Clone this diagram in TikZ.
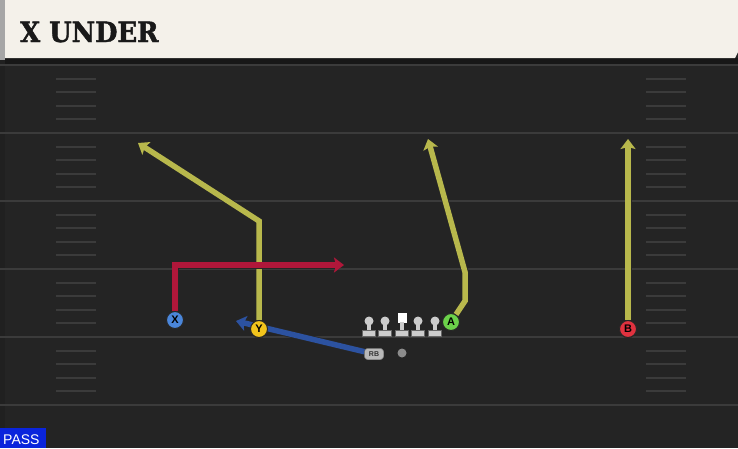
\documentclass[tikz,border=0pt]{standalone}
\usepackage{fontspec}
\setmainfont{Liberation Sans}
\newfontfamily\titlefont{DejaVu Serif}[FakeStretch=0.92,FakeBold=1.5]
\usetikzlibrary{arrows.meta}

\definecolor{field}{HTML}{242424}
\definecolor{yardline}{HTML}{3B3B3B}
\definecolor{cream}{HTML}{F4F1EA}
\definecolor{yellowroute}{HTML}{B8B84C}
\definecolor{redroute}{HTML}{B0173A}
\definecolor{blueroute}{HTML}{2C52A0}
\definecolor{xblue}{HTML}{4A86DA}
\definecolor{yyellow}{HTML}{F2C41C}
\definecolor{agreen}{HTML}{6BD24A}
\definecolor{bred}{HTML}{E0323F}
\definecolor{passblue}{HTML}{0A24DC}

\begin{document}
\begin{tikzpicture}
    [%%%%%%%%%%%%%%%%%%%%%%%%%%%%%%
        x=1pt, y=-1pt,
        player/.style={circle,draw=black!85,line width=1pt,inner sep=0pt,minimum size=17pt,
            font=\bfseries\fontsize{11}{11}\selectfont},
        rbbox/.style={rectangle,rounded corners=3pt,fill=black!28,draw=black!60,inner sep=0pt,
            minimum width=19pt,minimum height=11pt,font=\bfseries\fontsize{7}{7}\selectfont,
            text=black!80},
        route/.style={line width=5.5pt,-{Stealth[length=10pt,width=15pt,inset=2pt]},
            preaction={draw=black!85,line width=7pt}},
        hash/.style={yardline,line width=2pt},
    ]%%%%%%%%%%%%%%%%%%%%%%%%%%%%%%

\useasboundingbox (0,0) rectangle (738,448);

% field
\fill[field] (0,0) rectangle (738,448);
\fill[black!35!field] (0,58) rectangle (738,64);
\fill[black!10!field] (0,58) rectangle (5,448);
\foreach \y in {65,133,201,269,337,405}
    \draw[yardline,line width=2pt] (0,\y) -- (738,\y);
\foreach \y in {65,133,201,269,337}{
    \foreach \k in {1,2,3,4}{
        \draw[hash] (56,\y+13.6*\k) -- (96,\y+13.6*\k);
        \draw[hash] (646,\y+13.6*\k) -- (686,\y+13.6*\k);
    }
}

% title bar
\fill[black!35] (0,0) rectangle (5,60);
\fill[cream] (5,0) -- (738,0) -- (738,52) -- (735,58) -- (5,58) -- cycle;
\node[anchor=base west,inner sep=0pt,font=\titlefont\bfseries\fontsize{28}{28}\selectfont,
    text=black!90] (title) at (20,42) {X UNDER};

% players
\node[player,fill=xblue] (X) at (175,320) {X};
\node[player,fill=yyellow] (Y) at (259,329) {Y};
\node[player,fill=agreen] (A) at (451,322) {A};
\node[player,fill=bred] (B) at (628,329) {B};
\node[rbbox] (RB) at (374,354) {RB};
\node[circle,fill=black!45,inner sep=0pt,minimum size=9pt] (ball) at (402,353) {};

% route break points
\coordinate (x1) at (175,265);
\coordinate (xend) at (344,265);
\coordinate (y1) at (259,221);
\coordinate (yend) at (138,143);
\coordinate (a1) at (465,301);
\coordinate (a2) at (465,272);
\coordinate (aend) at (428,139);
\coordinate (bend) at (628,139);
\coordinate (rbend) at (236,321);

% routes
\draw[route,yellowroute] (Y) -- (y1) -- (yend);
\draw[route,yellowroute] (A) -- (a1) -- (a2) -- (aend);
\draw[route,yellowroute] (B) -- (bend);
\draw[route,redroute] (X) -- (x1) -- (xend);
\draw[route,blueroute] (RB) -- (rbend);

% players on top
\node[player,fill=xblue] at (X) {X};
\node[player,fill=yyellow] at (Y) {Y};
\node[player,fill=agreen] at (A) {A};
\node[player,fill=bred] at (B) {B};
\node[rbbox] at (RB) {RB};

% line
\foreach \x in {369,385,418,435}{
    \fill[black!20] (\x,321) circle (4.5);
}
\fill[white] (397.5,313) rectangle (406.5,323);
\foreach \x in {369,385,402,418,435}{
    \fill[black!20] (\x-2,322) rectangle (\x+2,331);
    \fill[black!20,draw=black!60,line width=0.5pt] (\x-6.5,330) rectangle (\x+6.5,336);
}

% play type
\fill[passblue] (0,428) rectangle (46,448);
\node[anchor=base west,inner sep=0pt,text=white,font=\fontsize{14}{14}\selectfont] (pass) at (3,444) {PASS};
\end{tikzpicture}
\end{document}
